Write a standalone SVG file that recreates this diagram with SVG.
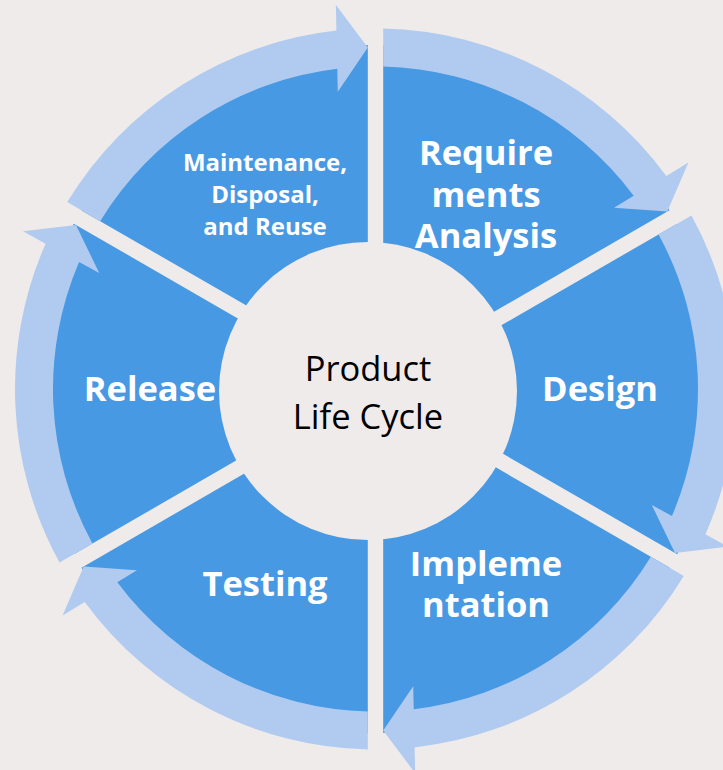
<svg xmlns="http://www.w3.org/2000/svg" xmlns:xlink="http://www.w3.org/1999/xlink" width="723" height="770" viewBox="0 0 723 770">
<style>
.bg{fill:#efebea}
.wedge{fill:#4899e3}
.band{fill:#b1cbf0}
.hub{fill:#efebea}
.lbl{font-family:"Open Sans","Noto Sans","Liberation Sans",sans-serif;font-weight:700;fill:#ffffff;text-anchor:middle}
.big{font-size:34.5px}
.small{font-size:24px}
.ctr{font-family:"Open Sans","Noto Sans","Liberation Sans",sans-serif;font-size:34.5px;fill:#000000;text-anchor:middle}
</style>
<defs>
<path id="wedge" d="M7.7,-13.3 L7.7,-343.91 A344,344 0 0 1 293.99,-178.63 Z"/>
<path id="band" d="M7.7,-360.42 A360.5,360.5 0 0 1 290.82,-213.04 L312.90,-226.46 L291.83,-177.38 L238.56,-181.28 L258.21,-193.22 A322.5,322.5 0 0 0 7.7,-322.41 Z"/>
</defs>
<rect class="bg" x="0" y="0" width="723" height="770"/>
<g id="requirements">
<use xlink:href="#wedge" class="wedge" transform="translate(375.5 389) rotate(0)"/>
<text class="lbl big" x="486" y="165"><tspan x="486" y="165">Require</tspan><tspan x="486" y="207">ments</tspan><tspan x="486" y="248">Analysis</tspan></text>
</g>
<g id="design">
<use xlink:href="#wedge" class="wedge" transform="translate(375.5 389) rotate(60)"/>
<text class="lbl big" x="600" y="401">Design</text>
</g>
<g id="implementation">
<use xlink:href="#wedge" class="wedge" transform="translate(375.5 389) rotate(120)"/>
<text class="lbl big" x="486" y="576"><tspan x="486" y="576">Impleme</tspan><tspan x="486" y="617">ntation</tspan></text>
</g>
<g id="testing">
<use xlink:href="#wedge" class="wedge" transform="translate(375.5 389) rotate(180)"/>
<text class="lbl big" x="265" y="596">Testing</text>
</g>
<g id="release">
<use xlink:href="#wedge" class="wedge" transform="translate(375.5 389) rotate(240)"/>
<text class="lbl big" x="150" y="401">Release</text>
</g>
<g id="maintenance">
<use xlink:href="#wedge" class="wedge" transform="translate(375.5 389) rotate(300)"/>
<text class="lbl small" x="265" y="171"><tspan x="265" y="171">Maintenance,</tspan><tspan x="265" y="203">Disposal,</tspan><tspan x="265" y="235">and Reuse</tspan></text>
</g>
<g id="connectors">
<use xlink:href="#band" class="band" transform="translate(375.5 389) rotate(0)"/>
<use xlink:href="#band" class="band" transform="translate(375.5 389) rotate(60)"/>
<use xlink:href="#band" class="band" transform="translate(375.5 389) rotate(120)"/>
<use xlink:href="#band" class="band" transform="translate(375.5 389) rotate(180)"/>
<use xlink:href="#band" class="band" transform="translate(375.5 389) rotate(240)"/>
<use xlink:href="#band" class="band" transform="translate(375.5 389) rotate(300)"/>
</g>
<g id="center">
<circle class="hub" cx="368" cy="391" r="149"/>
<text class="ctr" x="368" y="381"><tspan x="368" y="381">Product</tspan><tspan x="368" y="429">Life Cycle</tspan></text>
</g>
</svg>
